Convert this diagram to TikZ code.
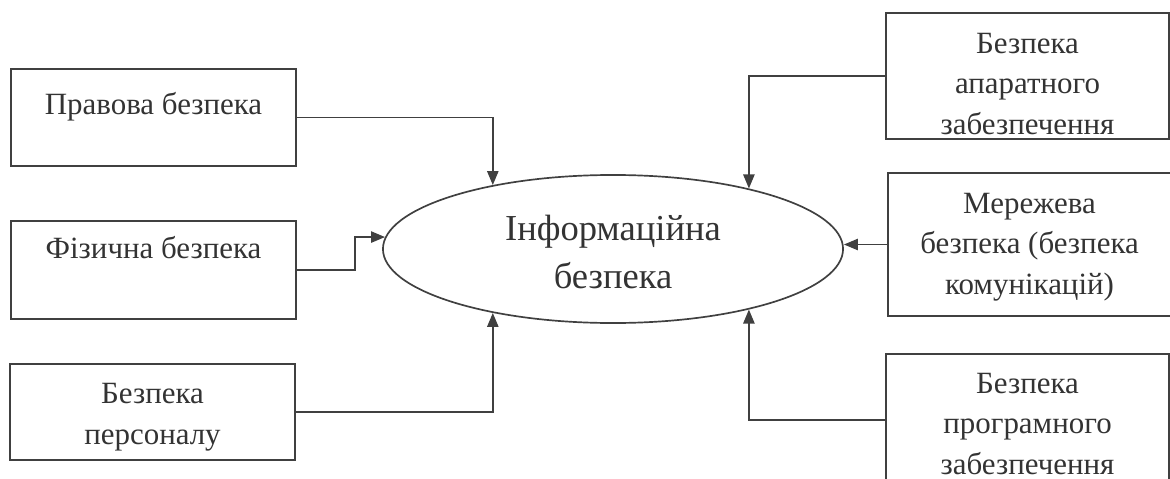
\documentclass[tikz,border=0pt]{standalone}
\usepackage{fontspec}
\setmainfont{Liberation Serif}
\usetikzlibrary{shapes.geometric, arrows.meta}

\begin{document}
\begin{tikzpicture}[x=0.025cm, y=-0.025cm]
  \tikzstyle{box}=[draw=black!75, line width=1.4pt, rectangle, anchor=north west,
    inner ysep=0pt, align=center, text=black!80, font=\fontsize{22}{28.5}\selectfont]
  \tikzstyle{lbox}=[box, minimum width=7.125cm]
  \tikzstyle{rbox}=[box, minimum width=7.075cm]
  \tikzstyle{arr}=[draw=black!75, line width=1.3pt, -{Triangle[length=10pt,width=8pt]}]
  \useasboundingbox (0,0) rectangle (1170,479);

  \node[lbox, text height=1.15cm, text depth=1.275cm] (prav) at (10,68) {Правова безпека};
  \node[lbox, text height=0.95cm, text depth=1.5cm] (fiz) at (10,220) {Фізична безпека};
  \node[lbox, text height=2cm, text depth=0.4cm] (pers) at (9,363) {Безпека\\персоналу};
  \node[rbox, text height=3.025cm, text depth=0.125cm] (apar) at (885,12) {Безпека\\апаратного\\забезпечення};
  \node[rbox, text height=3.025cm, text depth=0.55cm] (mer) at (887,172) {Мережева\\безпека (безпека\\комунікацій)};
  \node[rbox, text height=3cm, text depth=0.3cm] (prog) at (885,353) {Безпека\\програмного\\забезпечення};

  \node[ellipse, draw=black!75, line width=1.2pt, minimum width=11.5cm, minimum height=3.7cm,
    inner sep=0pt, align=center, text=black!80, font=\fontsize{26}{34}\selectfont,
    text height=2.2cm, text depth=0.25cm] (info) at (613,249) {Інформаційна\\безпека};

  \draw[arr] (prav.east) -| (info.152);
  \draw[arr] (fiz.east) -- ++(58,0) |- (info.177);
  \draw[arr] (pers.east) -| (info.208);
  \draw[arr] (apar.west) -| (info.24);
  \draw[arr] (mer.west) -- (info.east |- mer.west);
  \draw[arr] (prog.west) -| (info.336);
\end{tikzpicture}
\end{document}
